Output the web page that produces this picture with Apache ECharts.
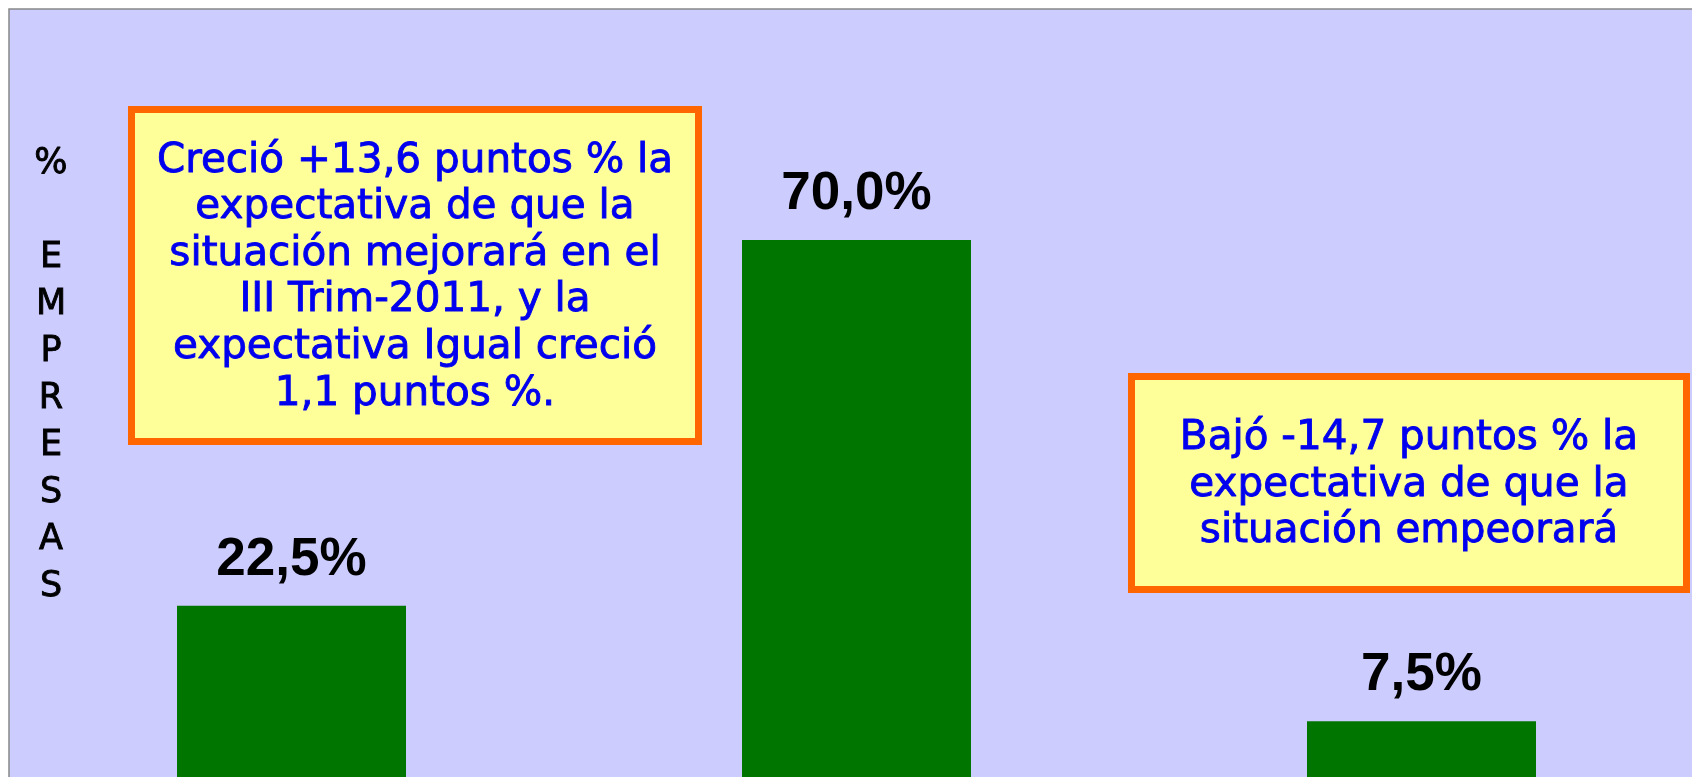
<!DOCTYPE html>
<html>
<head>
    <meta charset="utf-8">
    <title>ECharts</title>
    <script src="https://cdn.jsdelivr.net/npm/echarts@6/dist/echarts.min.js"></script>
    <style>
        html, body { margin: 0; padding: 0; background: #fff; }
    </style>
</head>
<body>
    <div id="main" style="width: 1692px;height:777px;"></div>

    <script type="text/javascript">
    var categories = ['Mejorará', 'Igual', 'Empeorará'];
    var values = [22.5, 70.0, 7.5];
    var axisName = ['%', '', 'E', 'M', 'P', 'R', 'E', 'S', 'A', 'S'];
    var note1 = ['Creció +13,6 puntos % la', 'expectativa de que la', 'situación mejorará en el',
        'III Trim-2011, y la', 'expectativa Igual creció', '1,1 puntos %.'];
    var note2 = ['Bajó -14,7 puntos % la', 'expectativa de que la', 'situación empeorará'];

    var myChart = echarts.init(document.getElementById('main'));

    var boxFont = "'DejaVu Sans', Verdana, sans-serif";

    function noteBox(x, y, w, h, lines) {
        return {
            type: 'group',
            children: [{
                type: 'rect',
                shape: { x: x, y: y, width: w, height: h },
                style: { fill: '#FFFF99', stroke: '#FF6600', lineWidth: 7 }
            }, {
                type: 'text',
                x: x + w / 2,
                y: y + h / 2 + 2,
                style: {
                    text: lines.join('\n'),
                    fill: '#0000EE',
                    stroke: '#0000EE',
                    lineWidth: 0.9,
                    font: '40.5px ' + boxFont,
                    lineHeight: 46.6,
                    align: 'center',
                    verticalAlign: 'middle'
                }
            }]
        };
    }

    var option = {
        backgroundColor: '#ffffff',
        animation: false,
        grid: {
            show: true,
            left: 9,
            top: 9,
            right: -12,
            bottom: -2,
            outerBoundsMode: 'none',
            backgroundColor: '#CCCCFF',
            borderColor: '#888888',
            borderWidth: 1.5
        },
        xAxis: {
            type: 'category',
            data: categories,
            show: false
        },
        yAxis: {
            type: 'value',
            min: 0,
            max: 100,
            show: false
        },
        series: [{
            type: 'bar',
            data: values,
            barWidth: 229,
            itemStyle: { color: '#007500' },
            label: {
                show: true,
                position: 'top',
                distance: 19,
                color: '#000',
                fontFamily: "'Liberation Sans', Arial, sans-serif",
                fontWeight: 'bold',
                fontSize: 53,
                formatter: function (p) {
                    return p.value.toFixed(1).replace('.', ',') + '%';
                }
            }
        }],
        graphic: [{
            type: 'text',
            x: 51,
            y: 140.5,
            style: {
                text: axisName.join('\n'),
                fill: '#000',
                stroke: '#000',
                lineWidth: 0.9,
                font: '35px ' + boxFont,
                lineHeight: 47,
                align: 'center',
                verticalAlign: 'top'
            }
        },
        noteBox(131.5, 109.5, 567, 332, note1),
        noteBox(1131.5, 376.5, 555, 213, note2)]
    };

    myChart.setOption(option);
    </script>
</body>
</html>
